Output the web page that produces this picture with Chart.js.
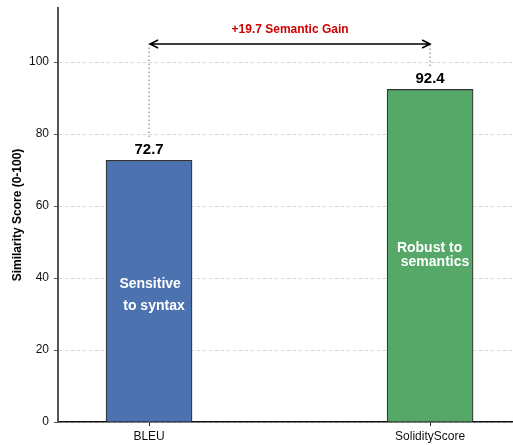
<!DOCTYPE html>
<html lang="en">
<head>
    <meta charset="UTF-8">
    <title>BLEU vs SolidityScore</title>
    <style>
        html, body { margin: 0; padding: 0; background: #fff; }
        .wrap { width: 513px; height: 445px; position: relative; }
    </style>
</head>
<body>
    <div class="wrap">
        <canvas id="scoreChart"></canvas>
    </div>

    <script src="https://cdn.jsdelivr.net/npm/chart.js"></script>
    <script>
        // dados
        const categories = ['BLEU', 'SolidityScore'];
        const scores = [72.7, 92.4];
        const barColors = ['#4c72b0', '#55a868'];
        const yTicks = [0, 20, 40, 60, 80, 100];

        const FONT = '"Liberation Sans", Arial, sans-serif';

        // textos dentro das barras (linhas e altura em unidades do eixo y)
        const barNotes = [
            { index: 0, lines: ['Sensitive', ' to syntax'], at: [38.3, 32.2] },
            { index: 1, lines: ['Robust to', ' semantics'], at: [48.3, 44.4] }
        ];
        const gainArrowAt = 105;
        const gainTextAt = 109;

        const annotate = {
            id: 'annotate',
            afterDatasetsDraw(chart) {
                const ctx = chart.ctx;
                const xs = chart.scales.x, ys = chart.scales.y;
                ctx.save();

                // valores acima das barras
                ctx.fillStyle = '#000';
                ctx.font = 'bold 15px ' + FONT;
                ctx.textAlign = 'center';
                ctx.textBaseline = 'alphabetic';
                scores.forEach((v, i) => {
                    ctx.fillText(v.toFixed(1), xs.getPixelForValue(i), ys.getPixelForValue(v) - 6.5);
                });

                // linhas pontilhadas até a seta
                ctx.strokeStyle = '#888';
                ctx.lineWidth = 1.2;
                ctx.setLineDash([1.5, 2.5]);
                scores.forEach((v, i) => {
                    const x = xs.getPixelForValue(i);
                    ctx.beginPath();
                    ctx.moveTo(x, ys.getPixelForValue(v + 6.5));
                    ctx.lineTo(x, ys.getPixelForValue(gainArrowAt));
                    ctx.stroke();
                });
                ctx.setLineDash([]);

                // seta dupla
                const x0 = xs.getPixelForValue(0) + 1, x1 = xs.getPixelForValue(1);
                const ay = ys.getPixelForValue(gainArrowAt);
                ctx.strokeStyle = '#000';
                ctx.lineWidth = 1.5;
                ctx.beginPath();
                ctx.moveTo(x0, ay); ctx.lineTo(x1, ay);
                ctx.moveTo(x0 + 8, ay - 4); ctx.lineTo(x0, ay); ctx.lineTo(x0 + 8, ay + 4);
                ctx.moveTo(x1 - 8, ay - 4); ctx.lineTo(x1, ay); ctx.lineTo(x1 - 8, ay + 4);
                ctx.stroke();

                const gain = scores[1] - scores[0];
                ctx.fillStyle = '#cc0000';
                ctx.font = 'bold 12px ' + FONT;
                ctx.textBaseline = 'middle';
                ctx.fillText('+' + gain.toFixed(1) + ' Semantic Gain', (x0 + x1) / 2, ys.getPixelForValue(gainTextAt));

                // texto branco dentro das barras
                ctx.fillStyle = '#fff';
                ctx.font = 'bold 14px ' + FONT;
                ctx.textAlign = 'left';
                barNotes.forEach(n => {
                    const w = Math.max(...n.lines.map(t => ctx.measureText(t).width));
                    const left = xs.getPixelForValue(n.index) + 3 - w / 2;
                    n.lines.forEach((t, k) => ctx.fillText(t, left, ys.getPixelForValue(n.at[k])));
                });
                ctx.restore();
            }
        };

        new Chart(document.getElementById('scoreChart'), {
            type: 'bar',
            data: {
                datasets: [{
                    data: scores.map((v, i) => ({ x: i, y: v })),
                    backgroundColor: barColors,
                    borderColor: '#333',
                    borderWidth: 1.2,
                    borderSkipped: 'bottom',
                    barThickness: 86
                }]
            },
            options: {
                responsive: true,
                maintainAspectRatio: false,
                animation: false,
                layout: { padding: { top: 8, right: 0, left: 0, bottom: 0 } },
                plugins: {
                    legend: { display: false },
                    tooltip: { enabled: false }
                },
                scales: {
                    x: {
                        type: 'linear',
                        offset: false,
                        min: -0.324,
                        max: 1.295,
                        afterBuildTicks: axis => { axis.ticks = categories.map((c, i) => ({ value: i })); },
                        afterFit: axis => { axis.height = 23; axis.paddingLeft = 0; axis.paddingRight = 0; },
                        ticks: {
                            callback: v => categories[v],
                            color: '#111',
                            font: { family: FONT, size: 12 },
                            padding: 3,
                            maxRotation: 0
                        },
                        grid: { offset: false, drawOnChartArea: false, tickLength: 4, tickColor: '#222', tickWidth: 1 },
                        border: { color: '#111', width: 1.5 }
                    },
                    y: {
                        min: 0,
                        max: 115,
                        afterBuildTicks: axis => { axis.ticks = yTicks.map(v => ({ value: v })); },
                        afterFit: axis => { axis.width = 58; axis.paddingTop = 0; axis.paddingBottom = 0; },
                        ticks: {
                            color: '#111',
                            font: { family: FONT, size: 12 },
                            padding: 5
                        },
                        grid: {
                            color: '#cccccc',
                            lineWidth: 0.8,
                            tickBorderDash: [],
                            tickColor: '#222',
                            tickLength: 4
                        },
                        border: { color: '#555', width: 2, dash: [3, 3] },
                        title: {
                            display: true,
                            text: 'Similarity Score (0-100)',
                            color: '#000',
                            font: { family: FONT, size: 12, weight: 'bold' },
                            padding: { top: 10, bottom: 0 }
                        }
                    }
                }
            },
            plugins: [annotate]
        });
    </script>
</body>
</html>
